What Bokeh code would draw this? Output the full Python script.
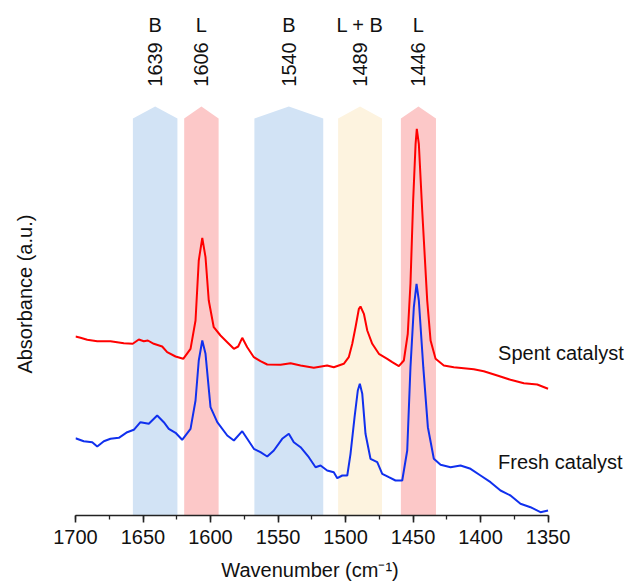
import math
from bokeh.plotting import figure
from bokeh.models import Range1d, SingleIntervalTicker, FixedTicker, ColumnDataSource
from bokeh.core.properties import value
from bokeh.embed import file_html
from bokeh.resources import INLINE

# ---- data ----
spent_wn = [1700.0, 1696.3, 1691.3, 1683.9, 1674.1, 1664.2, 1657.6, 1653.1, 1649.4, 1646.4,
            1642.0, 1635.8, 1632.1, 1625.9, 1620.2, 1614.8, 1611.1, 1608.7, 1606.1, 1603.7,
            1601.3, 1597.6, 1592.6, 1587.6, 1582.7, 1579.5, 1576.5, 1572.8, 1567.9, 1563.0,
            1558.0, 1548.1, 1540.7, 1533.3, 1523.5, 1513.6, 1508.7, 1501.3, 1497.6, 1495.0,
            1492.6, 1490.1, 1488.9, 1486.4, 1483.9, 1480.2, 1475.3, 1469.1, 1465.4, 1460.5,
            1456.8, 1453.9, 1451.9, 1449.9, 1448.1, 1447.2, 1445.7, 1443.2, 1439.5, 1437.0,
            1433.3, 1427.2, 1419.8, 1412.4, 1405.0, 1397.6, 1387.6, 1377.8, 1367.9, 1358.0,
            1350.0]
spent_abs = [1.790, 1.777, 1.757, 1.743, 1.743, 1.723, 1.717, 1.760, 1.743, 1.750,
             1.717, 1.690, 1.633, 1.590, 1.567, 1.667, 1.950, 2.550, 2.777, 2.583,
             2.150, 1.883, 1.800, 1.733, 1.667, 1.690, 1.777, 1.683, 1.583, 1.543,
             1.510, 1.507, 1.523, 1.500, 1.477, 1.500, 1.483, 1.517, 1.583, 1.717,
             1.883, 2.067, 2.090, 2.017, 1.850, 1.717, 1.617, 1.567, 1.533, 1.493,
             1.550, 1.817, 2.317, 3.150, 3.717, 3.867, 3.717, 3.050, 2.150, 1.750,
             1.567, 1.500, 1.483, 1.473, 1.463, 1.443, 1.400, 1.357, 1.323, 1.310,
             1.267]

fresh_wn = [1700.0, 1693.9, 1687.6, 1683.9, 1679.0, 1674.1, 1667.9, 1661.7, 1656.8, 1651.9,
            1645.7, 1639.5, 1634.6, 1630.9, 1625.9, 1621.0, 1614.8, 1611.1, 1608.7, 1606.1,
            1603.7, 1600.0, 1595.0, 1587.6, 1582.7, 1576.5, 1572.8, 1567.9, 1563.0, 1558.0,
            1553.1, 1546.9, 1542.0, 1538.3, 1533.3, 1527.2, 1522.2, 1518.5, 1513.6, 1508.7,
            1506.1, 1502.4, 1498.7, 1496.3, 1493.3, 1490.9, 1489.4, 1487.6, 1485.2, 1481.5,
            1476.5, 1472.8, 1467.9, 1463.0, 1458.0, 1454.3, 1451.9, 1449.4, 1447.4, 1445.7,
            1442.4, 1439.0, 1434.6, 1429.6, 1422.2, 1414.8, 1407.4, 1400.0, 1392.6, 1385.2,
            1377.8, 1370.4, 1363.0, 1355.6, 1350.0]
fresh_abs = [0.773, 0.743, 0.733, 0.690, 0.743, 0.767, 0.777, 0.833, 0.857, 0.933,
             0.917, 1.000, 0.933, 0.867, 0.827, 0.757, 0.867, 1.150, 1.550, 1.750,
             1.617, 1.083, 0.933, 0.800, 0.750, 0.843, 0.767, 0.667, 0.633, 0.590,
             0.650, 0.767, 0.817, 0.733, 0.683, 0.583, 0.483, 0.500, 0.450, 0.433,
             0.373, 0.400, 0.400, 0.617, 0.983, 1.250, 1.317, 1.217, 0.817, 0.567,
             0.533, 0.417, 0.383, 0.350, 0.350, 0.650, 1.483, 2.083, 2.317, 2.150,
             1.483, 0.883, 0.567, 0.507, 0.483, 0.500, 0.467, 0.400, 0.333, 0.250,
             0.200, 0.117, 0.083, 0.033, 0.050]

band_hi = [1657.5, 1619.5, 1567.5, 1505.5, 1459.0]
band_lo = [1624.5, 1594.0, 1516.5, 1473.0, 1433.0]
band_nums = ["1639", "1606", "1540", "1489", "1446"]
band_types = ["B", "L", "B", "L + B", "L"]
band_colors = ["#d2e3f5", "#fcc8c8", "#d2e3f5", "#fdf3df", "#fcc8c8"]

x_ticks_interval = 50
series_names = ["Spent catalyst", "Fresh catalyst"]
x_title = "Wavenumber (cm\u207b\u00b9)"
y_title = "Absorbance (a.u.)"

# ---- figure ----
FONT = "Liberation Sans"
NBSP = "\u00a0"
p = figure(width=633, height=584, x_range=Range1d(1700, 1286.7), y_range=Range1d(0, 5.15),
           output_backend="svg", toolbar_location=None,
           min_border_left=75, min_border_right=0, min_border_top=0, min_border_bottom=69)
p.outline_line_color = None
p.xgrid.visible = False
p.ygrid.visible = False
p.background_fill_color = "white"

# bands (arrow-topped columns)
shoulder, apex = 3.97, 4.09
xs, ys, mids = [], [], []
for hi, lo in zip(band_hi, band_lo):
    mid = (hi + lo) / 2
    mids.append(mid)
    xs.append([hi, hi, mid, lo, lo])
    ys.append([0, shoulder, apex, shoulder, 0])
p.patches(xs, ys, fill_color=band_colors, line_color=None)

# spectra
p.line(spent_wn, spent_abs, line_color="#ff0000", line_width=2)
p.line(fresh_wn, fresh_abs, line_color="#1030ee", line_width=2)

# band labels
src = ColumnDataSource(dict(x=mids, num=band_nums, typ=band_types,
                            yn=[4.51] * 5, yt=[4.91] * 5))
p.text(x="x", y="yn", text="num", source=src, angle=math.pi / 2,
       text_align="center", text_baseline="middle", text_font=value(FONT),
       text_font_size="20px", text_color="#111111")
p.text(x="x", y="yt", text="typ", source=src,
       text_align="center", text_baseline="middle", text_font=value(FONT),
       text_font_size="20px", text_color="#111111")

# series labels
p.text(x=[1387, 1387], y=[1.63, 0.54], text=series_names,
       text_align="left", text_baseline="alphabetic", text_font=value(FONT),
       text_font_size="20px", text_color="#111111")

# x axis
ax = p.xaxis[0]
ax.ticker = SingleIntervalTicker(interval=x_ticks_interval, num_minor_ticks=2)
ax.bounds = (1350, 1700)
ax.axis_line_color = "#222222"
ax.axis_line_width = 1.6
ax.major_tick_line_color = "#222222"
ax.major_tick_line_width = 1.6
ax.major_tick_in = 0
ax.major_tick_out = 7
ax.minor_tick_line_color = "#222222"
ax.minor_tick_line_width = 1.3
ax.minor_tick_in = 0
ax.minor_tick_out = 4
ax.major_label_text_font = FONT
ax.major_label_text_font_size = "20px"
ax.major_label_text_color = "#111111"
ax.major_label_standoff = 7
# padded so the centred title sits under the drawn span of the axis
ax.axis_label = x_title + NBSP * 16
ax.axis_label_text_font = FONT
ax.axis_label_text_font_size = "20px"
ax.axis_label_text_font_style = "normal"
ax.axis_label_text_color = "#111111"
ax.axis_label_standoff = 12

# y axis: only its title is shown
ay = p.yaxis[0]
ay.ticker = FixedTicker(ticks=[])
ay.axis_line_color = None
ay.major_tick_line_color = None
ay.minor_tick_line_color = None
ay.major_label_text_font_size = "0px"
ay.axis_label = y_title + NBSP * 13
ay.axis_label_text_font = FONT
ay.axis_label_text_font_size = "20px"
ay.axis_label_text_font_style = "normal"
ay.axis_label_text_color = "#111111"
ay.axis_label_standoff = 40

open("out.html", "w").write(file_html(p, INLINE))
